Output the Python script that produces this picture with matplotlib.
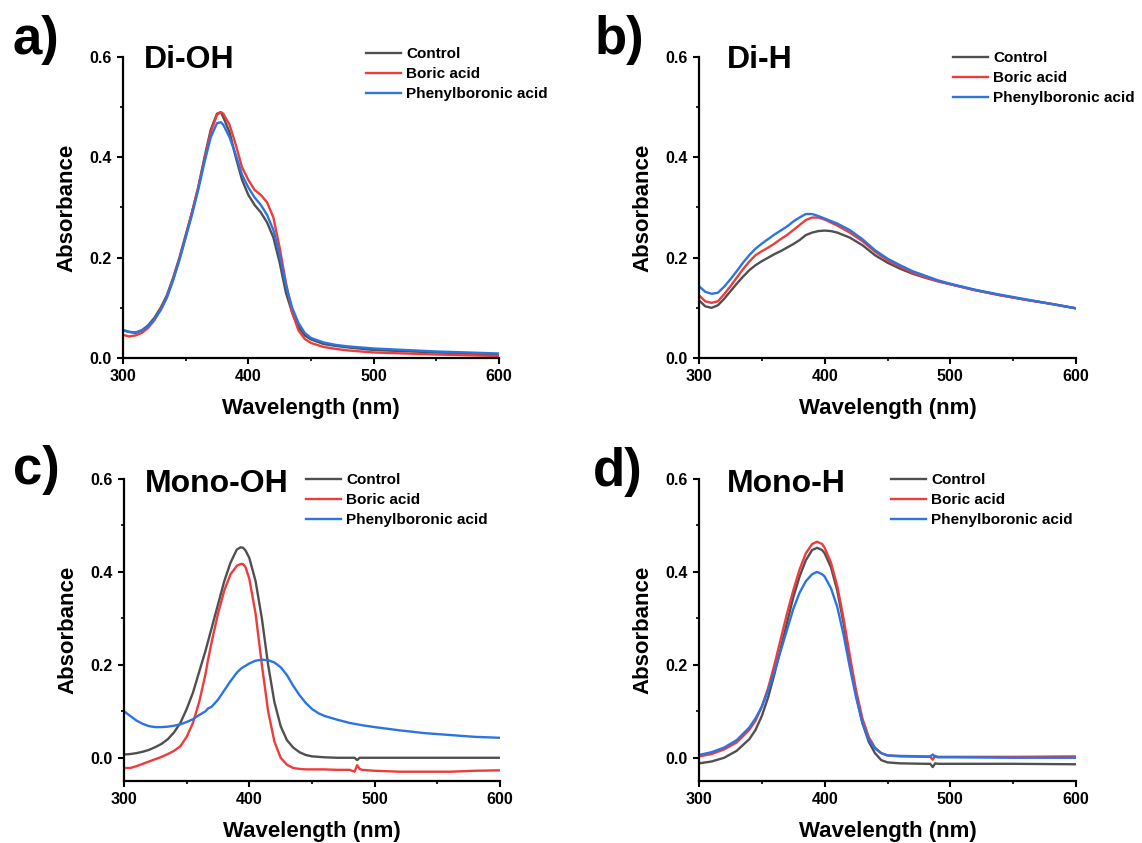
import matplotlib
matplotlib.use("Agg")
import matplotlib.pyplot as plt
from matplotlib.ticker import MultipleLocator

plt.rcParams['font.family'] = ['Liberation Sans', 'DejaVu Sans']
plt.rcParams['font.weight'] = 'bold'

# ---------------- data ----------------
labels = ["Control", "Boric acid", "Phenylboronic acid"]
colors = ["#505050", "#EE3B3B", "#2B74E2"]

# a) Di-OH
wl_a = [300, 305, 310, 315, 320, 325, 330, 335, 340, 345, 350, 355, 360, 365, 370, 375, 378,
        380, 385, 390, 395, 400, 405, 410, 415, 420, 425, 430, 435, 440, 445, 450, 460, 470,
        480, 500, 550, 600]
a_control = [0.055, 0.052, 0.050, 0.055, 0.065, 0.080, 0.100, 0.125, 0.160, 0.200, 0.245, 0.290,
             0.340, 0.400, 0.455, 0.487, 0.490, 0.480, 0.450, 0.400, 0.355, 0.325, 0.305, 0.290,
             0.270, 0.240, 0.190, 0.130, 0.090, 0.062, 0.045, 0.037, 0.028, 0.024, 0.021, 0.016,
             0.011, 0.007]
a_boric = [0.046, 0.043, 0.045, 0.050, 0.060, 0.075, 0.097, 0.122, 0.157, 0.197, 0.242, 0.290,
           0.340, 0.395, 0.450, 0.485, 0.490, 0.487, 0.465, 0.425, 0.380, 0.355, 0.335, 0.325,
           0.310, 0.280, 0.220, 0.150, 0.090, 0.055, 0.038, 0.030, 0.022, 0.018, 0.015, 0.011,
           0.007, 0.004]
a_phenyl = [0.056, 0.052, 0.051, 0.055, 0.063, 0.077, 0.095, 0.120, 0.155, 0.195, 0.240, 0.285,
            0.335, 0.390, 0.440, 0.468, 0.470, 0.465, 0.440, 0.405, 0.365, 0.340, 0.320, 0.305,
            0.285, 0.255, 0.205, 0.145, 0.100, 0.070, 0.050, 0.040, 0.031, 0.026, 0.023, 0.019,
            0.013, 0.009]

# b) Di-H
wl_b = [300, 305, 310, 315, 320, 325, 330, 335, 340, 345, 350, 355, 360, 365, 370, 375, 380,
        385, 390, 395, 400, 405, 410, 420, 430, 440, 450, 460, 470, 480, 490, 500, 520, 540,
        560, 580, 600]
b_control = [0.115, 0.103, 0.100, 0.105, 0.118, 0.133, 0.148, 0.162, 0.175, 0.185, 0.193, 0.200,
             0.207, 0.213, 0.220, 0.227, 0.235, 0.245, 0.250, 0.253, 0.254, 0.253, 0.250, 0.240,
             0.225, 0.205, 0.190, 0.178, 0.168, 0.160, 0.153, 0.147, 0.135, 0.125, 0.116, 0.108,
             0.099]
b_boric = [0.125, 0.113, 0.110, 0.113, 0.127, 0.143, 0.160, 0.177, 0.192, 0.205, 0.213, 0.220,
           0.228, 0.237, 0.245, 0.255, 0.265, 0.275, 0.280, 0.280, 0.276, 0.270, 0.264, 0.250,
           0.233, 0.212, 0.195, 0.182, 0.170, 0.161, 0.153, 0.147, 0.135, 0.125, 0.116, 0.108,
           0.099]
b_phenyl = [0.143, 0.132, 0.128, 0.130, 0.142, 0.157, 0.173, 0.190, 0.205, 0.218, 0.228, 0.237,
            0.246, 0.254, 0.262, 0.272, 0.280, 0.287, 0.287, 0.283, 0.278, 0.273, 0.268, 0.255,
            0.237, 0.215, 0.198, 0.185, 0.173, 0.164, 0.155, 0.148, 0.136, 0.126, 0.117, 0.108,
            0.099]

# c) Mono-OH
wl_c = [300, 305, 310, 315, 320, 325, 330, 335, 340, 345, 350, 355, 360, 365, 367, 370, 375,
        380, 385, 390, 393, 395, 397, 400, 405, 410, 415, 420, 425, 430, 435, 440, 445, 450,
        455, 460, 470, 480, 484, 486, 488, 490, 500, 520, 540, 560, 580, 600]
c_control = [0.007, 0.008, 0.010, 0.013, 0.017, 0.023, 0.030, 0.040, 0.055, 0.075, 0.105, 0.140,
             0.185, 0.230, 0.250, 0.280, 0.330, 0.380, 0.420, 0.448, 0.453, 0.452, 0.446, 0.430,
             0.380, 0.300, 0.200, 0.120, 0.068, 0.038, 0.022, 0.012, 0.006, 0.003, 0.002, 0.001,
             0.000, 0.000, 0.000, -0.005, 0.000, 0.000, 0.000, 0.000, 0.000, 0.000, 0.000, 0.000]
c_boric = [-0.022, -0.022, -0.018, -0.013, -0.008, -0.003, 0.002, 0.008, 0.015, 0.025, 0.045,
           0.075, 0.120, 0.180, 0.210, 0.250, 0.310, 0.360, 0.395, 0.413, 0.417, 0.417, 0.410,
           0.385, 0.310, 0.200, 0.100, 0.035, 0.000, -0.015, -0.022, -0.024, -0.025, -0.025,
           -0.025, -0.025, -0.026, -0.026, -0.030, -0.016, -0.024, -0.026, -0.028, -0.030,
           -0.030, -0.030, -0.028, -0.027]
c_phenyl = [0.100, 0.090, 0.080, 0.073, 0.068, 0.066, 0.066, 0.067, 0.069, 0.072, 0.077, 0.083,
            0.092, 0.100, 0.106, 0.110, 0.125, 0.145, 0.165, 0.183, 0.191, 0.195, 0.198, 0.203,
            0.209, 0.211, 0.210, 0.205, 0.195, 0.178, 0.155, 0.135, 0.118, 0.105, 0.096, 0.090,
            0.082, 0.075, 0.073, 0.072, 0.071, 0.070, 0.066, 0.059, 0.053, 0.049, 0.045, 0.043]

# d) Mono-H
wl_d = [300, 310, 320, 330, 340, 345, 350, 355, 360, 365, 370, 375, 380, 385, 390, 394, 398,
        400, 405, 410, 415, 420, 425, 430, 435, 440, 445, 450, 460, 480, 484, 486, 488, 490,
        500, 550, 600]
d_control = [-0.012, -0.008, 0.000, 0.015, 0.040, 0.060, 0.090, 0.130, 0.180, 0.235, 0.290, 0.345,
             0.390, 0.425, 0.447, 0.452, 0.447, 0.440, 0.410, 0.360, 0.290, 0.210, 0.135, 0.075,
             0.035, 0.010, -0.005, -0.010, -0.012, -0.013, -0.013, -0.020, -0.012, -0.013, -0.013,
             -0.013, -0.014]
d_boric = [0.003, 0.008, 0.018, 0.033, 0.060, 0.080, 0.110, 0.150, 0.200, 0.255, 0.310, 0.360,
           0.405, 0.440, 0.460, 0.465, 0.460, 0.452, 0.420, 0.370, 0.300, 0.220, 0.145, 0.085,
           0.045, 0.022, 0.010, 0.005, 0.003, 0.002, 0.002, -0.004, 0.004, 0.002, 0.002, 0.002,
           0.003]
d_phenyl = [0.006, 0.012, 0.022, 0.038, 0.065, 0.085, 0.110, 0.145, 0.185, 0.230, 0.275, 0.320,
            0.355, 0.380, 0.395, 0.400, 0.395, 0.390, 0.365, 0.325, 0.265, 0.195, 0.130, 0.075,
            0.040, 0.020, 0.010, 0.005, 0.004, 0.003, 0.003, 0.007, 0.002, 0.001, 0.001, 0.000,
            0.000]

panels = [
    ("a)", "Di-OH", wl_a, [a_control, a_boric, a_phenyl], (0, 0.6)),
    ("b)", "Di-H", wl_b, [b_control, b_boric, b_phenyl], (0, 0.6)),
    ("c)", "Mono-OH", wl_c, [c_control, c_boric, c_phenyl], (-0.05, 0.6)),
    ("d)", "Mono-H", wl_d, [d_control, d_boric, d_phenyl], (-0.05, 0.6)),
]

# ---------------- layout (pixels) ----------------
W, H = 1142, 843
fig = plt.figure(figsize=(W / 100, H / 100), dpi=100)

boxes = [(123, 57, 499, 358), (699, 57, 1076, 358), (124, 479, 500, 781), (699, 479, 1076, 781)]
letter_pos = [(13, 40), (595, 40), (13, 470), (593, 472)]
title_pos = [(144, 60), (727, 60), (145, 484), (727, 484)]
legend_pos = [(366, 45), (953, 49), (306, 471), (891, 471)]

for (letter, title, wl, series, ylim), (l, t, r, b), lp, tp, gp in zip(
        panels, boxes, letter_pos, title_pos, legend_pos):
    ax = fig.add_axes([l / W, 1 - b / H, (r - l) / W, (b - t) / H])
    for y, c, lab in zip(series, colors, labels):
        ax.plot(wl, y, color=c, lw=1.7, label=lab)
    ax.set_xlim(300, 600)
    ax.set_ylim(*ylim)
    ax.xaxis.set_major_locator(MultipleLocator(100))
    ax.xaxis.set_minor_locator(MultipleLocator(50))
    ax.yaxis.set_major_locator(MultipleLocator(0.2))
    ax.yaxis.set_minor_locator(MultipleLocator(0.1))
    ax.yaxis.set_major_formatter(matplotlib.ticker.FormatStrFormatter('%.1f'))
    for s in ("top", "right"):
        ax.spines[s].set_visible(False)
    for s in ("left", "bottom"):
        ax.spines[s].set_linewidth(1.6)
    ax.tick_params(which='major', direction='out', length=4, width=1.5, labelsize=11.5, pad=4)
    ax.tick_params(which='minor', direction='out', length=2.5, width=1.2)
    for lab in ax.get_xticklabels() + ax.get_yticklabels():
        lab.set_fontweight('bold')
    ax.set_xlabel("Wavelength (nm)", fontsize=16, fontweight='bold', labelpad=10)
    ax.set_ylabel("Absorbance", fontsize=16, fontweight='bold', labelpad=9)

    fig.text(lp[0] / W, 1 - lp[1] / H, letter, fontsize=38, fontweight='bold',
             ha='left', va='center')
    fig.text(tp[0] / W, 1 - tp[1] / H, title, fontsize=23, fontweight='bold',
             ha='left', va='center')
    ax.legend(loc='upper left', bbox_to_anchor=(gp[0] / W, 1 - (gp[1] + 2) / H),
              bbox_transform=fig.transFigure, frameon=False, borderpad=0,
              borderaxespad=0, handlelength=2.3, handletextpad=0.35,
              labelspacing=0.4, prop={'size': 11, 'weight': 'bold'})

fig.savefig("out.png", dpi=100)
